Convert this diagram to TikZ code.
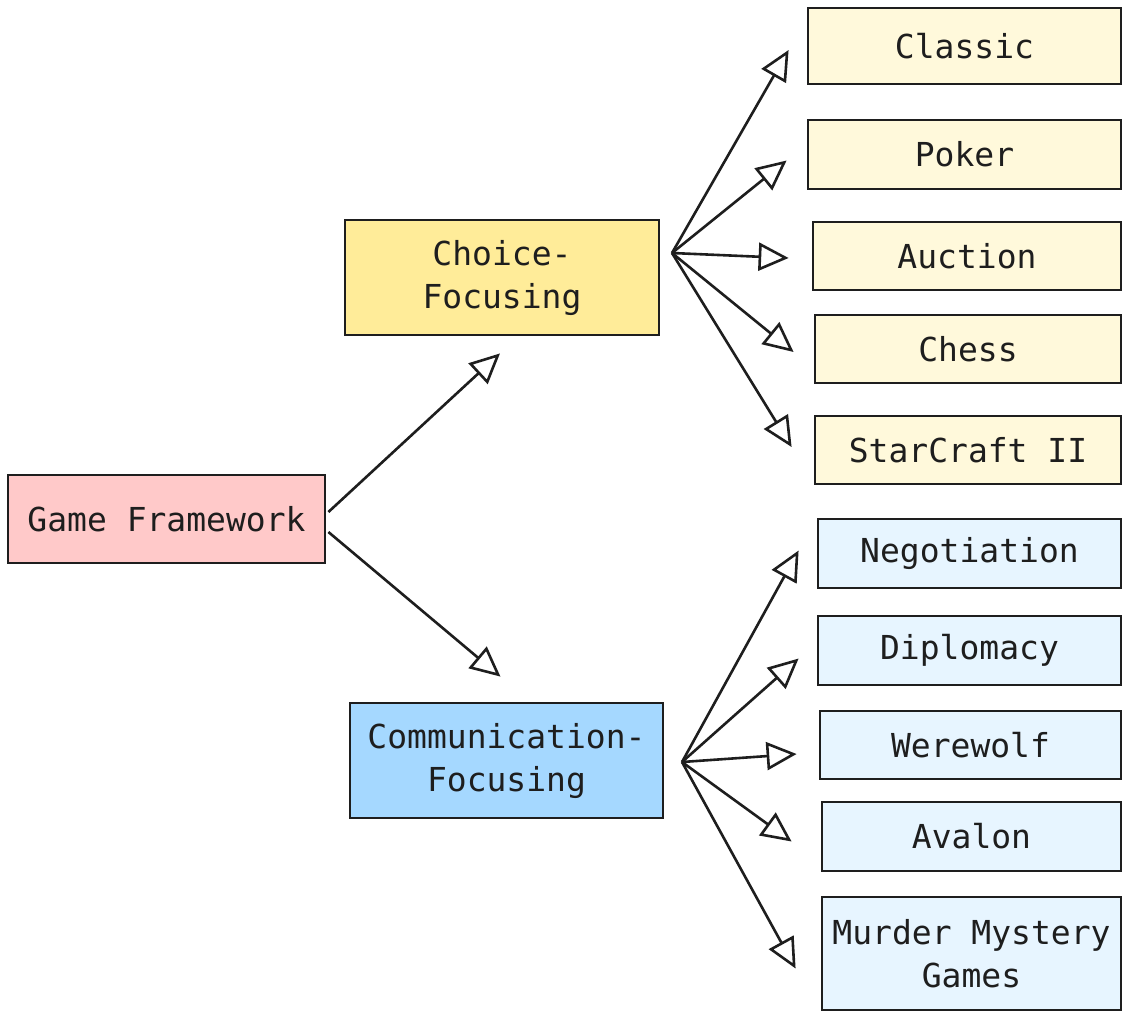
\documentclass[tikz,border=0pt]{standalone}
\usepackage{fontspec}
\setmonofont{DejaVu Sans Mono}
\usetikzlibrary{arrows.meta}
\definecolor{cpink}{HTML}{FFC9C9}
\definecolor{cyel}{HTML}{FFEC99}
\definecolor{cblue}{HTML}{A5D8FF}
\definecolor{clyel}{HTML}{FFF9DB}
\definecolor{clblue}{HTML}{E7F5FF}
\definecolor{ink}{HTML}{1E1E1E}
\tikzset{
  box/.style={draw=ink, line width=2.8pt, rectangle, inner sep=0pt, align=center,
    font=\ttfamily\fontsize{33}{43}\selectfont, text=ink},
  arr/.style={draw=ink, line width=2.6pt, -{Triangle[open, length=30pt, width=28pt, line width=2.6pt, fill=white]}},
}
\begin{document}
\begin{tikzpicture}[x=1pt,y=-1pt]
\useasboundingbox (0,0) rectangle (1124,1013);
\node[box, fill=cpink, minimum width=317pt, minimum height=88pt] (gf) at (166.5,519) {Game Framework};
\node[box, fill=cyel, minimum width=314pt, minimum height=115pt] (cf) at (502,277.5) {Choice-\\Focusing};
\node[box, fill=cblue, minimum width=313pt, minimum height=115pt] (cm) at (506.5,760.5) {Communication-\\Focusing};

\node[box, fill=clyel, minimum width=313pt, minimum height=76pt] (classic) at (964.5,46) {Classic};
\node[box, fill=clyel, minimum width=313pt, minimum height=69pt] (poker) at (964.5,154.5) {Poker};
\node[box, fill=clyel, minimum width=308pt, minimum height=68pt] (auction) at (967,256) {Auction};
\node[box, fill=clyel, minimum width=306pt, minimum height=68pt] (chess) at (968,349) {Chess};
\node[box, fill=clyel, minimum width=306pt, minimum height=68pt] (star) at (968,450) {StarCraft II};

\node[box, fill=clblue, minimum width=303pt, minimum height=69pt] (nego) at (969.5,553.5) {Negotiation};
\node[box, fill=clblue, minimum width=303pt, minimum height=69pt] (dipl) at (969.5,650.5) {Diplomacy};
\node[box, fill=clblue, minimum width=301pt, minimum height=68pt] (were) at (970.5,745) {Werewolf};
\node[box, fill=clblue, minimum width=299pt, minimum height=69pt] (aval) at (971.5,836.5) {Avalon};
\node[box, fill=clblue, minimum width=299pt, minimum height=113pt] (murd) at (971.5,953.5) {Murder Mystery\\Games};

\coordinate (cfsrc) at (672,253);
\coordinate (cmsrc) at (682,762);

\draw[arr] ([xshift=2pt,yshift=7pt]gf.east) -- ([xshift=-2pt,yshift=-17pt]cf.south);
\draw[arr] ([xshift=2pt,yshift=-13pt]gf.east) -- ([xshift=-6pt,yshift=25pt]cm.north);

\draw[arr] (cfsrc) -- ([xshift=-18pt,yshift=-4pt]classic.west);
\draw[arr] (cfsrc) -- ([xshift=-20pt,yshift=-6pt]poker.west);
\draw[arr] (cfsrc) -- ([xshift=-23pt,yshift=-2pt]auction.west);
\draw[arr] (cfsrc) -- ([xshift=-20pt,yshift=-3pt]chess.west);
\draw[arr] (cfsrc) -- ([xshift=-22pt,yshift=3pt]star.west);

\draw[arr] (cmsrc) -- ([xshift=-18pt,yshift=3pt]nego.west);
\draw[arr] (cmsrc) -- ([xshift=-18pt,yshift=-8pt]dipl.west);
\draw[arr] (cmsrc) -- ([xshift=-22pt,yshift=-9pt]were.west);
\draw[arr] (cmsrc) -- ([xshift=-29pt,yshift=-5pt]aval.west);
\draw[arr] (cmsrc) -- ([xshift=-25pt,yshift=-15pt]murd.west);
\end{tikzpicture}
\end{document}
